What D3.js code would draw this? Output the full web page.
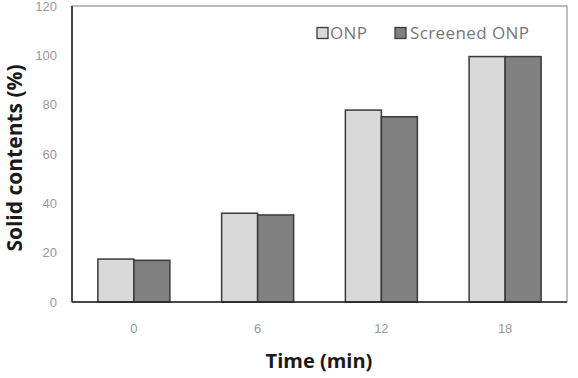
<!DOCTYPE html>
<html>
<head>
<meta charset="utf-8">
<script src="https://cdn.jsdelivr.net/npm/d3@7"></script>
<style>
  body { margin: 0; background: #fff; }
  svg { display: block; font-family: "Open Sans", "Noto Sans", sans-serif; }
</style>
</head>
<body>
<svg id="chart" width="578" height="378"></svg>
<script>
const categories = ['0', '6', '12', '18'];
const seriesNames = ['ONP', 'Screened ONP'];
const onpValues = [17.4, 36.0, 77.8, 99.5];
const screenedValues = [16.9, 35.3, 75.1, 99.5];
const yTicks = [0, 20, 40, 60, 80, 100, 120];

const colors = ['#d9d9d9', '#808080'];
const svg = d3.select('#chart');
const plotLeft = 72, plotRight = 567, plotTop = 6, plotBottom = 302;

const x = d3.scaleBand().domain(categories).range([plotLeft, plotRight]);
const xs = d3.scaleBand().domain(seriesNames).range([0, 72]);
const y = d3.scaleLinear().domain([0, 120]).range([plotBottom, plotTop]);

// plot frame
svg.append('rect')
    .attr('x', plotLeft).attr('y', plotTop)
    .attr('width', plotRight - plotLeft).attr('height', plotBottom - plotTop)
    .attr('fill', 'none').attr('stroke', '#7f7f7f').attr('stroke-width', 1);

const rows = categories.map((c, i) => ({cat: c, vals: [onpValues[i], screenedValues[i]]}));

const groups = svg.append('g').selectAll('g')
    .data(rows).enter().append('g')
    .attr('transform', d => `translate(${x(d.cat) + x.bandwidth() / 2 - 36},0)`);

groups.selectAll('rect')
    .data(d => d.vals.map((v, j) => ({name: seriesNames[j], v: v, j: j})))
    .enter().append('rect')
    .attr('x', d => xs(d.name))
    .attr('y', d => y(d.v))
    .attr('width', xs.bandwidth())
    .attr('height', d => y(0) - y(d.v))
    .attr('fill', d => colors[d.j])
    .attr('stroke', '#3a3a3a')
    .attr('stroke-width', 1.5);

// axes lines (left and bottom darker)
svg.append('line').attr('x1', plotLeft).attr('x2', plotLeft).attr('y1', plotTop).attr('y2', plotBottom)
    .attr('stroke', '#222').attr('stroke-width', 1.5);
svg.append('line').attr('x1', plotLeft).attr('x2', plotRight).attr('y1', plotBottom).attr('y2', plotBottom)
    .attr('stroke', '#222').attr('stroke-width', 1.5);

const yAxis = svg.append('g')
    .attr('transform', `translate(${plotLeft},0)`)
    .call(d3.axisLeft(y).tickValues(yTicks).tickSize(0).tickPadding(15));
yAxis.select('.domain').remove();
yAxis.selectAll('text').attr('fill', '#999').style('font-size', '13px');

const xAxis = svg.append('g')
    .attr('transform', `translate(0,${plotBottom})`)
    .call(d3.axisBottom(x).tickSize(0).tickPadding(22));
xAxis.select('.domain').remove();
xAxis.selectAll('text').attr('fill', '#999').style('font-size', '13px');

svg.append('text')
    .attr('x', 319).attr('y', 368)
    .attr('text-anchor', 'middle')
    .style('font-size', '20px').style('font-weight', 'bold').attr('fill', '#1a1a1a')
    .text('Time (min)');

svg.append('text')
    .attr('transform', 'translate(22,158) rotate(-90)')
    .attr('text-anchor', 'middle')
    .style('font-size', '21px').style('font-weight', 'bold').attr('fill', '#1a1a1a')
    .text('Solid contents (%)');

// legend
const legendX = [317, 395];
const legend = svg.append('g').selectAll('g')
    .data(seriesNames).enter().append('g')
    .attr('transform', (d, i) => `translate(${legendX[i]},27.5)`);
legend.append('rect')
    .attr('width', 11).attr('height', 11)
    .attr('fill', (d, i) => colors[i])
    .attr('stroke', '#3a3a3a').attr('stroke-width', 1.3);
legend.append('text')
    .attr('x', (d, i) => i === 0 ? 13 : 15).attr('y', 11.5)
    .style('font-size', '17px').style('letter-spacing', '0.4px').attr('fill', '#777')
    .text(d => d);
</script>
</body>
</html>
